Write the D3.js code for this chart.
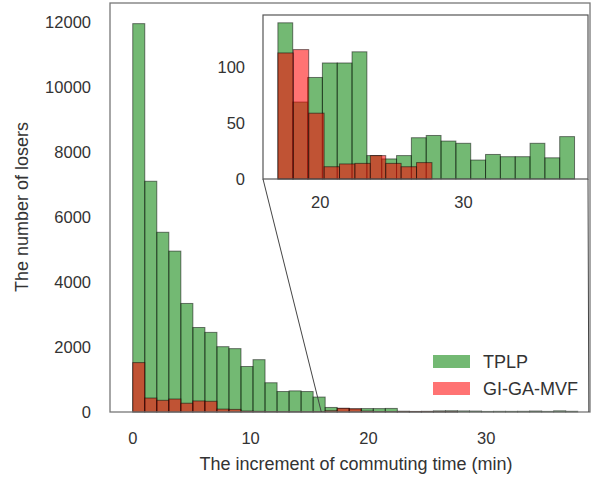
<!DOCTYPE html>
<html>
<head>
<meta charset="utf-8">
<script src="https://cdn.jsdelivr.net/npm/d3@7"></script>
<style>
  body { margin: 0; background: #fff; }
  svg { display: block; font-family: "Liberation Sans", Arial, sans-serif; }
  .tick-label { fill: #333; font-size: 16.5px; }
  .axis-label { fill: #333; font-size: 18px; }
  .legend-label { fill: #333; font-size: 18px; }
</style>
</head>
<body>
<svg id="chart" width="591" height="477"></svg>
<script>
// main histogram: shared bins starting at 0
const mainBinStart = 0;
const mainBinWidth = 1.0205;
const tplpMain = [11950, 7100, 5530, 4950, 3340, 2600, 2450, 2010, 1950, 1400, 1610, 900, 630, 650, 630, 460,
  140, 110, 95, 105, 105, 110, 25, 18, 22, 35, 38, 33, 30, 18, 21, 20, 22, 31, 19, 36, 22];
const gigaMain = [1520, 430, 360, 400, 270, 340, 330, 90, 80, 30, 20, 15, 12, 10, 10, 15,
  40, 115, 100, 30, 14, 14, 13, 15, 13, 12, 14];

// inset histograms (values above ~17 min, own bins)
const insetStart = 17.04;
const tplpInsetWidth = 1.036;
const tplpInset = [140, 69, 91, 104, 104, 114, 21, 18, 21, 37, 39, 34, 32, 17, 22, 20, 20, 32, 19, 38];
const gigaInsetWidth = 1.076;
const gigaInset = [113, 116, 59, 11, 13.5, 14, 21, 14, 11, 14.7];

const mainXTicks = [0, 10, 20, 30];
const mainYTicks = [0, 2000, 4000, 6000, 8000, 10000, 12000];
const insetXTicks = [20, 30];
const insetYTicks = [0, 50, 100];
const seriesNames = ["TPLP", "GI-GA-MVF"];

const green = "rgba(0,128,0,0.55)";
const red = "rgba(255,0,0,0.55)";

const toBins = (vals, start, w) => vals.map((v, i) => ({ x0: start + i * w, x1: start + (i + 1) * w, v }));

const svg = d3.select("#chart");

// main axes
const x = d3.scaleLinear().domain([-1.93, 38.8]).range([110, 590]);
const y = d3.scaleLinear().domain([0, 12585]).range([412, 3]);

const drawBars = (g, bins, xs, ys, fill) => {
  g.selectAll("rect").data(bins).join("rect")
    .attr("x", d => xs(d.x0))
    .attr("width", d => xs(d.x1) - xs(d.x0))
    .attr("y", d => ys(d.v))
    .attr("height", d => ys(0) - ys(d.v))
    .attr("fill", fill)
    .attr("stroke", "#000")
    .attr("stroke-opacity", 0.5)
    .attr("stroke-width", 1);
};

drawBars(svg.append("g"), toBins(tplpMain, mainBinStart, mainBinWidth), x, y, green);
drawBars(svg.append("g"), toBins(gigaMain, mainBinStart, mainBinWidth), x, y, red);

svg.append("rect")
  .attr("x", 110).attr("y", 3).attr("width", 480).attr("height", 409)
  .attr("fill", "none").attr("stroke", "#777").attr("stroke-width", 1.3);

svg.append("g").selectAll("text").data(mainYTicks).join("text")
  .attr("class", "tick-label")
  .attr("x", 91).attr("y", d => y(d)).attr("dy", "0.35em")
  .attr("text-anchor", "end").text(d => d);

svg.append("g").selectAll("text").data(mainXTicks).join("text")
  .attr("class", "tick-label")
  .attr("x", d => x(d)).attr("y", 438).attr("dy", "0.35em")
  .attr("text-anchor", "middle").text(d => d);

svg.append("text").attr("class", "axis-label")
  .attr("x", 356).attr("y", 464).attr("dy", "0.35em")
  .attr("text-anchor", "middle").text("The increment of commuting time (min)");

svg.append("text").attr("class", "axis-label")
  .attr("transform", "rotate(-90)")
  .attr("x", -207).attr("y", 22).attr("dy", "0.35em")
  .attr("text-anchor", "middle").text("The number of losers");

// legend
const legend = svg.append("g");
seriesNames.forEach((name, i) => {
  const ly = 355 + i * 27;
  legend.append("rect").attr("x", 433).attr("y", ly).attr("width", 37).attr("height", 13)
    .attr("fill", i === 0 ? green : red);
  legend.append("text").attr("class", "legend-label")
    .attr("x", 483).attr("y", ly + 7).attr("dy", "0.35em").text(name);
});

// inset axes
const ix = d3.scaleLinear().domain([16.0, 38.7]).range([263, 588]);
const iy = d3.scaleLinear().domain([0, 147]).range([179, 15]);

svg.append("rect")
  .attr("x", 263).attr("y", 15).attr("width", 325).attr("height", 164)
  .attr("fill", "#fff");

drawBars(svg.append("g"), toBins(tplpInset, insetStart, tplpInsetWidth), ix, iy, green);
drawBars(svg.append("g"), toBins(gigaInset, insetStart, gigaInsetWidth), ix, iy, red);

svg.append("rect")
  .attr("x", 263).attr("y", 15).attr("width", 325).attr("height", 164)
  .attr("fill", "none").attr("stroke", "#555").attr("stroke-width", 1.2);

svg.append("g").selectAll("text").data(insetYTicks).join("text")
  .attr("class", "tick-label")
  .attr("x", 245).attr("y", d => iy(d)).attr("dy", "0.35em")
  .attr("text-anchor", "end").text(d => d);

svg.append("g").selectAll("text").data(insetXTicks).join("text")
  .attr("class", "tick-label")
  .attr("x", d => ix(d)).attr("y", 202).attr("dy", "0.35em")
  .attr("text-anchor", "middle").text(d => d);

// connector lines from inset corners to the zoomed range on the main axis
const ixd = ix.domain();
svg.append("g").selectAll("line").data(ixd).join("line")
  .attr("x1", d => ix(d)).attr("y1", iy(0))
  .attr("x2", d => x(d)).attr("y2", y(0))
  .attr("stroke", "#444").attr("stroke-width", 1);
</script>
</body>
</html>
